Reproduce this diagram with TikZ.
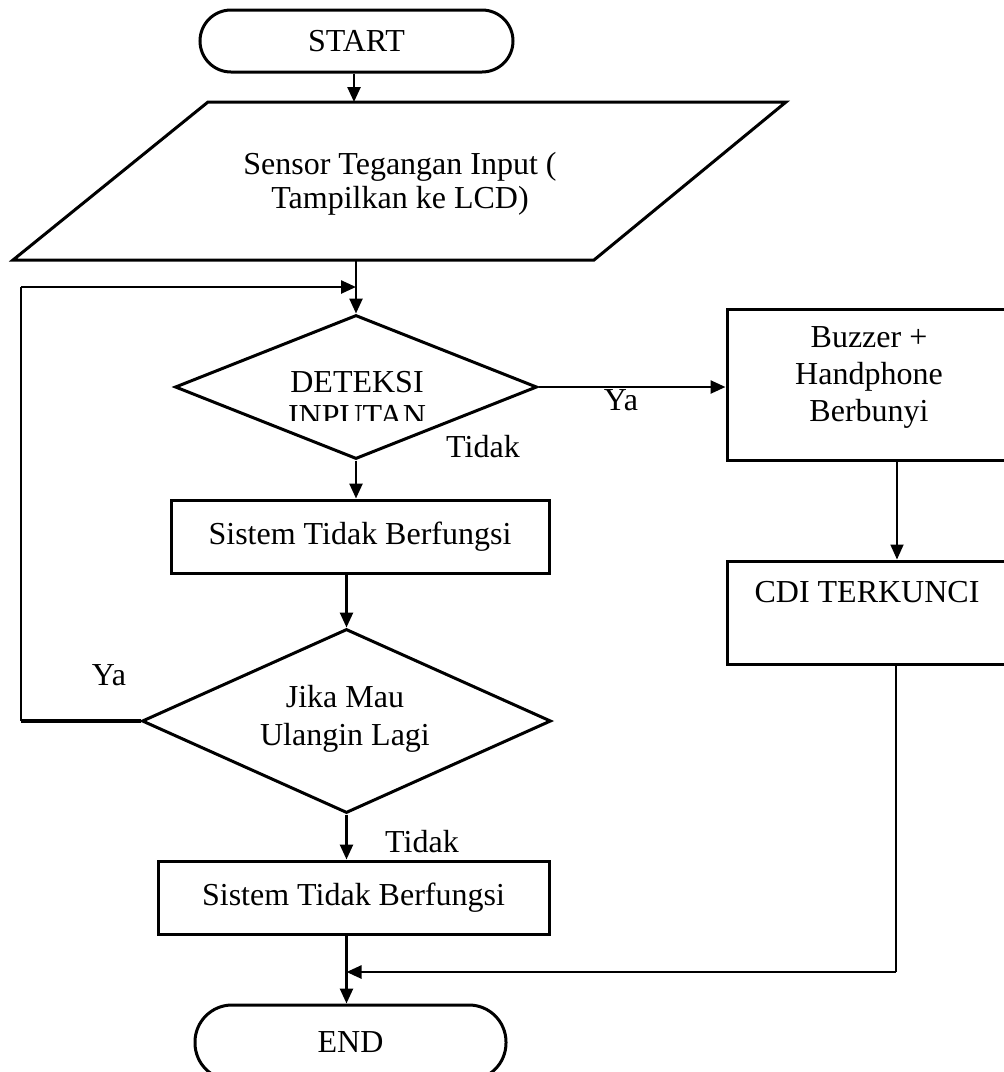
\documentclass[tikz,border=0pt]{standalone}
\usepackage{fontspec}
\setmainfont{Liberation Serif}
\usetikzlibrary{arrows.meta,shapes.geometric,calc}
\begin{document}
\begin{tikzpicture}[x=1pt,y=-1pt,
  every node/.style={font=\fontsize{32}{37}\selectfont, inner sep=0pt},
  shapeline/.style={draw, line width=3pt},
  box/.style={shapeline, rectangle},
  term/.style={shapeline, rectangle},
  decision/.style={shapeline, diamond, inner sep=0pt},
  txt/.style={align=center},
  arr/.style={line width=2.5pt, -{Triangle[length=15pt,width=13pt]}},
  flow/.style={line width=2.5pt}]

\useasboundingbox (0,0) rectangle (1004,1072);
\clip (0,0) rectangle (1004,1072);

% terminals
\node[term, rounded corners=31pt, minimum width=313pt, minimum height=62pt] (start) at (356.5,41) {START};
\node[term, rounded corners=37pt, minimum width=311pt, minimum height=75pt] (endn) at (350.5,1042.5) {END};

% input / output parallelogram
\coordinate (p1) at (208,102);
\coordinate (p2) at (786,102);
\coordinate (p3) at (594,260);
\coordinate (p4) at (13,260);
\draw[line width=3pt] (p1) -- (p2) -- (p3) -- (p4) -- cycle;
\node[txt, font=\fontsize{32}{34}\selectfont] (inp) at (400,184) {Sensor Tegangan Input (\\Tampilkan ke LCD)};
\coordinate (inTop) at (354,102);
\coordinate (inBot) at (356,260);

% first decision
\node[decision, minimum width=362pt, minimum height=144pt] (d1) at (356,387) {};
\node (d1a) at (357,382) {DETEKSI};
\begin{scope}
  \clip (250,396) rectangle (460,420);
  \node (d1b) at (357,416) {INPUTAN};
\end{scope}

% processes on the left
\node[box, minimum width=378pt, minimum height=73pt] (r1) at (360,536.5) {Sistem Tidak Berfungsi};
\node[decision, minimum width=409pt, minimum height=184pt] (d2) at (346.5,721) {};
\node[txt, font=\fontsize{32}{38}\selectfont] (d2t) at (345,719) {Jika Mau\\Ulangin Lagi};
\node[box, minimum width=391pt, minimum height=73pt] (r2) at (353.5,897.5) {Sistem Tidak Berfungsi};

% processes on the right
\node[box, minimum width=284pt, minimum height=151pt] (buz) at (869,384.5) {};
\node[txt] (buzt) at (869,377) {Buzzer +\\Handphone\\Berbunyi};
\node[box, minimum width=283pt, minimum height=103pt] (cdi) at (868.5,612.5) {};
\node (cdit) at (867,592) {CDI TERKUNCI};

% branch labels
\node (ya1) at (621,400) {Ya};
\node (td1) at (483,447) {Tidak};
\node (ya2) at (109,675) {Ya};
\node (td2) at (422,842) {Tidak};

% main flow
\draw[arr] (start.south -| inTop) -- (inTop);
\draw[arr] (inBot) -- (d1.north);
\draw[arr] (d1.south) -- (d1.south |- r1.north);
\draw[arr] (r1.south -| d2.north) -- (d2.north);
\draw[arr] (d2.south) -- (d2.south |- r2.north);
\draw[arr] (r2.south -| d2.south) -- (endn.north -| d2.south);

% repeat loop
\coordinate (lpT) at (21,287);
\coordinate (lpB) at (d2.west -| lpT);
\draw[line width=4pt] (d2.west) -- (lpB);
\draw[line width=2pt] (lpB) -- (lpT);
\draw[arr] (lpT) -- (lpT -| inBot);

% alarm branch
\coordinate (bx) at (897,0);
\coordinate (jn) at (896,972);
\draw[arr] (d1.east) -- (d1.east -| buz.west);
\draw[arr, line width=1.8pt] (buz.south -| bx) -- (cdi.north -| bx);
\draw[flow] (cdi.south -| jn) -- (jn);
\draw[arr] (jn) -- (jn -| d2.south);
\end{tikzpicture}
\end{document}
